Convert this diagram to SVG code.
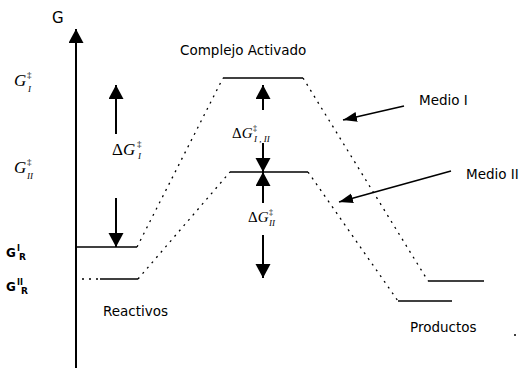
<svg xmlns="http://www.w3.org/2000/svg" width="526" height="368" viewBox="0 0 526 368">
<style>
.lbl{font-family:"DejaVu Sans",Verdana,sans-serif;font-size:13.5px;fill:#000}
.sym{font-family:"Liberation Serif","Times New Roman",serif;fill:#000}
.it{font-style:italic}
.lvl{stroke:#000;stroke-width:1.6;fill:none}
.dot{stroke:#000;stroke-width:1.3;fill:none;stroke-dasharray:2 5}
.arr{stroke:#000;stroke-width:2;fill:none}
.thin{stroke:#000;stroke-width:1.6;fill:none}
</style>
<defs>
<marker id="head" markerUnits="userSpaceOnUse" markerWidth="16" markerHeight="16" refX="14" refY="7.5" orient="auto">
<path d="M0,0 L14,7.5 L0,15 Z" fill="#000"/>
</marker>
<marker id="head2" markerUnits="userSpaceOnUse" markerWidth="16" markerHeight="12" refX="14" refY="5" orient="auto">
<path d="M0,0 L14,5 L0,10 Z" fill="#000"/>
</marker>
</defs>
<rect width="526" height="368" fill="#fff"/>

<g id="axis">
<line class="arr" x1="76" y1="368" x2="76" y2="29" marker-end="url(#head)"/>
<text class="lbl" x="52" y="23" style="font-size:15px">G</text>
</g>

<g id="labels-left">
<text class="sym it" x="14" y="86" style="font-size:17px">G</text>
<text class="sym" x="27" y="78" style="font-size:9px">‡</text>
<text class="sym it" x="28" y="92" style="font-size:9px">I</text>
<text class="sym it" x="14" y="173" style="font-size:17px">G</text>
<text class="sym" x="27" y="165" style="font-size:9px">‡</text>
<text class="sym it" x="27" y="179" style="font-size:9px">II</text>
<text class="lbl" x="6" y="257" style="font-size:12px;font-weight:bold">G</text>
<text class="lbl" x="17" y="251" style="font-size:8px;font-weight:bold">I</text>
<text class="lbl" x="19" y="260" style="font-size:9px;font-weight:bold">R</text>
<text class="lbl" x="6" y="291" style="font-size:12px;font-weight:bold">G</text>
<text class="lbl" x="17" y="285" style="font-size:8px;font-weight:bold">II</text>
<text class="lbl" x="21" y="294" style="font-size:9px;font-weight:bold">R</text>
</g>

<g id="reactivos">
<line class="lvl" x1="77" y1="247" x2="137" y2="247"/>
<line class="dot" x1="82" y1="279" x2="100" y2="279"/>
<line class="lvl" x1="100" y1="279" x2="138" y2="279"/>
<text class="lbl" x="103" y="316">Reactivos</text>
</g>

<g id="complejo-activado">
<text class="lbl" x="180" y="55">Complejo Activado</text>
<line class="lvl" x1="223" y1="78" x2="303" y2="78"/>
<line class="lvl" x1="230" y1="172" x2="308" y2="172"/>
</g>

<g id="productos">
<line class="lvl" x1="428" y1="281" x2="484" y2="281"/>
<line class="lvl" x1="398" y1="301" x2="452" y2="301"/>
<text class="lbl" x="410" y="332">Productos</text>
<circle cx="515" cy="335" r="1" fill="#000"/>
</g>

<g id="medio-i">
<text class="lbl" x="419" y="105">Medio I</text>
</g>
<g id="medio-ii">
<text class="lbl" x="466" y="179">Medio II</text>
</g>

<g id="connectors">
<line class="dot" x1="137" y1="247" x2="223" y2="78"/>
<line class="dot" x1="138" y1="279" x2="230" y2="172"/>
<line class="dot" x1="303" y1="78" x2="428" y2="281"/>
<line class="dot" x1="308" y1="172" x2="398" y2="301"/>

<line class="arr" x1="116" y1="134" x2="116" y2="85" marker-end="url(#head)"/>
<line class="arr" x1="116" y1="198" x2="116" y2="247" marker-end="url(#head)"/>

<line class="arr" x1="263" y1="110" x2="263" y2="85" marker-end="url(#head)"/>
<line class="arr" x1="263" y1="143" x2="263" y2="172" marker-end="url(#head)"/>
<line class="arr" x1="263" y1="203" x2="263" y2="172" marker-end="url(#head)"/>
<line class="arr" x1="263" y1="235" x2="263" y2="278" marker-end="url(#head)"/>

<line class="thin" x1="404" y1="106" x2="343" y2="120" marker-end="url(#head2)"/>
<line class="thin" x1="451" y1="171" x2="339" y2="202" marker-end="url(#head2)"/>
</g>

<g id="delta-labels">
<text class="sym" x="112" y="155" style="font-size:17px">Δ<tspan class="it">G</tspan></text>
<text class="sym" x="137" y="147" style="font-size:9px">‡</text>
<text class="sym it" x="138" y="159" style="font-size:9px">I</text>
<text class="sym" x="232" y="138" style="font-size:15px">Δ<tspan class="it">G</tspan></text>
<text class="sym" x="253" y="131" style="font-size:8px">‡</text>
<text class="sym it" x="254" y="142" style="font-size:9px">I , II</text>
<text class="sym" x="248" y="222" style="font-size:15px">Δ<tspan class="it">G</tspan></text>
<text class="sym" x="269" y="215" style="font-size:8px">‡</text>
<text class="sym it" x="269" y="226" style="font-size:9px">II</text>
</g>
</svg>
